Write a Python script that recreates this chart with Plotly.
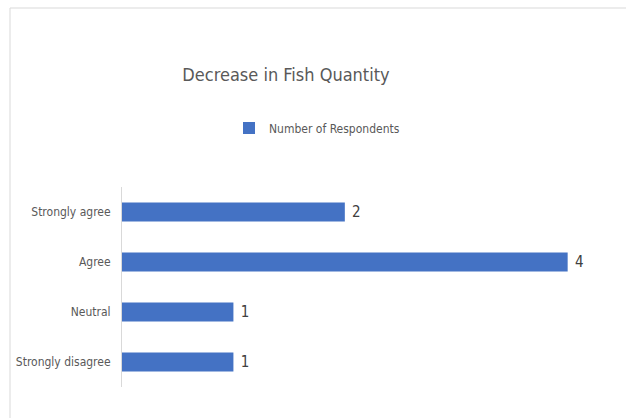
import plotly.graph_objects as go

categories = ["Strongly agree", "Agree", "Neutral", "Strongly disagree"]
respondents = [2, 4, 1, 1]
series_name = "Number of Respondents"
title_text = "Decrease in Fish Quantity"

FONT = "Liberation Sans Narrow, DejaVu Sans Condensed, sans-serif"
W, H = 626, 418
L, R, T, B = 122, 16, 187, 31
pw = W - L - R
ph = H - T - B

fig = go.Figure()
fig.add_trace(go.Bar(
    y=categories, x=respondents, orientation="h", name=series_name,
    marker=dict(color="#4472C4", line=dict(width=0)),
    text=[" " + str(v) for v in respondents], textposition="outside",
    textfont=dict(family=FONT, size=15, color="#404040"),
    cliponaxis=False, showlegend=True,
))

def px_x(px):
    return (px - L) / pw

def px_y(py):
    return (H - B - py) / ph

fig.update_layout(
    width=W, height=H,
    margin=dict(l=L, r=R, t=T, b=B, autoexpand=False),
    paper_bgcolor="white", plot_bgcolor="white",
    font=dict(family=FONT, color="#595959"),
    title=dict(text=title_text, xref="container", yref="container",
               x=286 / W, xanchor="center", y=1 - 75 / H, yanchor="middle",
               font=dict(family=FONT, size=18, color="#595959")),
    legend=dict(orientation="h", xref="container", yref="container",
                x=229 / W, xanchor="left", y=1 - 128 / H, yanchor="middle",
                itemwidth=30, font=dict(family=FONT, size=12, color="#595959"),
                bgcolor="rgba(0,0,0,0)"),
    bargap=0.62,
    xaxis=dict(range=[0, 4.38], visible=False, fixedrange=True),
    yaxis=dict(autorange="reversed", showline=True, linecolor="#d9d9d9", linewidth=1,
               ticks="", showgrid=False, ticklabelstandoff=8,
               tickfont=dict(family=FONT, size=12, color="#595959")),
    shapes=[dict(type="rect", xref="paper", yref="paper",
                 x0=px_x(10), x1=px_x(640), y0=px_y(430), y1=px_y(8),
                 line=dict(color="#d9d9d9", width=1), fillcolor="rgba(0,0,0,0)",
                 layer="below")],
)

fig.write_html("out.html", config={"displayModeBar": False},
               post_script="document.body.style.margin='0';")
